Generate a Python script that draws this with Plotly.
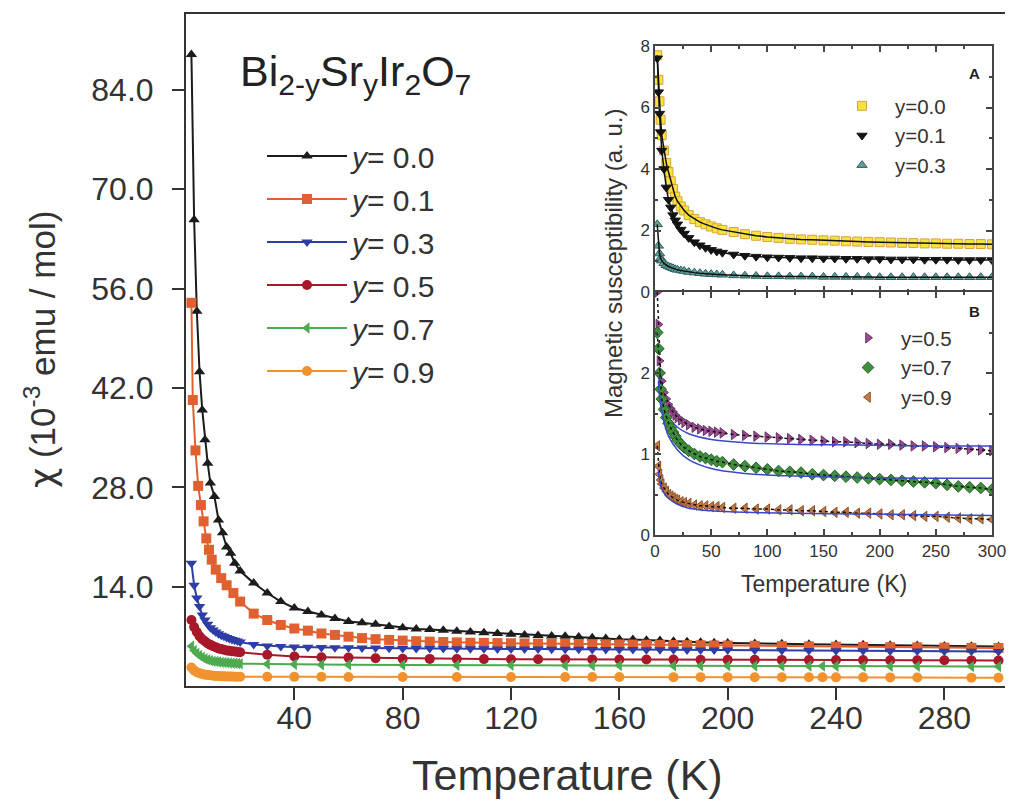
import plotly.graph_objects as go

# ---------------- main panel data (T in K, chi in 1e-3 emu/mol) ----------------
T_low_00 = [2, 3, 4, 5, 6, 7, 8, 9, 10.5, 12, 13.5, 15, 16.5, 18, 20]
chi_low_00 = [89.0, 65.7, 52.8, 44.3, 38.9, 34.7, 31.4, 28.6, 26.7, 23.4, 21.6, 19.6, 18.7, 17.3, 16.2]
T_low_01 = [2, 2.5, 3.5, 4.5, 5.5, 6.5, 7.5, 8.5, 9.5, 11, 13, 15, 17.5, 20]
chi_low_01 = [54.0, 40.3, 33.2, 28.2, 25.5, 23.2, 20.8, 19.2, 17.8, 16.4, 15.2, 14.2, 13.1, 11.9]
T_dense = [2, 3, 4, 5, 6, 7, 8, 9, 10, 11, 12, 13, 14, 15, 16, 17, 18, 19, 20]
chi_low_03 = [17.3, 14.2, 12.4, 11.2, 10.0, 9.3, 8.7, 8.2, 7.9, 7.6, 7.35, 7.15, 7.0, 6.85, 6.7, 6.55, 6.45, 6.35, 6.2]
chi_low_05 = [9.3, 8.3, 7.6, 7.0, 6.6, 6.3, 6.0, 5.8, 5.6, 5.45, 5.3, 5.2, 5.1, 5.0, 4.95, 4.9, 4.85, 4.8, 4.75]
chi_low_07 = [5.6, 5.0, 4.6, 4.3, 4.05, 3.85, 3.7, 3.6, 3.5, 3.45, 3.4, 3.35, 3.3, 3.28, 3.25, 3.22, 3.2, 3.18, 3.15]
chi_low_09 = [2.6, 2.2, 1.95, 1.8, 1.7, 1.6, 1.55, 1.5, 1.45, 1.42, 1.4, 1.38, 1.36, 1.35, 1.34, 1.33, 1.32, 1.31, 1.3]

T_high_5K = [25, 30, 35, 40, 45, 50, 55, 60, 65, 70, 75, 80, 85, 90, 95, 100, 105, 110, 115, 120,
             125, 130, 135, 140, 145, 150, 155, 160, 165, 170, 175, 180, 185, 190, 195, 200,
             210, 220, 230, 240, 250, 260, 270, 280, 290, 300]
chi_high_00 = [14.5, 13.1, 11.9, 11.0, 10.5, 10.0, 9.5, 9.1, 8.9, 8.7, 8.4, 8.2, 8.05, 7.95, 7.85, 7.7, 7.6, 7.5, 7.4, 7.3,
               7.2, 7.1, 7.05, 7.0, 6.9, 6.8, 6.7, 6.6, 6.55, 6.45, 6.4, 6.3, 6.25, 6.15, 6.1, 6.05,
               6.0, 5.95, 5.9, 5.85, 5.8, 5.75, 5.7, 5.65, 5.6, 5.55]
chi_high_01 = [10.2, 9.3, 8.6, 8.1, 7.8, 7.4, 7.2, 6.95, 6.75, 6.6, 6.5, 6.4, 6.32, 6.25, 6.2, 6.15, 6.1, 6.08, 6.05, 6.02,
               6.0, 5.98, 5.96, 5.94, 5.92, 5.9, 5.88, 5.86, 5.84, 5.82, 5.8, 5.78, 5.76, 5.74, 5.72, 5.7,
               5.66, 5.62, 5.58, 5.54, 5.5, 5.47, 5.44, 5.41, 5.38, 5.35]
chi_high_03 = [5.85, 5.65, 5.55, 5.5, 5.45, 5.42, 5.4, 5.38, 5.36, 5.34, 5.32, 5.3, 5.29, 5.28, 5.27, 5.26, 5.25, 5.24, 5.23, 5.22,
               5.21, 5.2, 5.19, 5.18, 5.17, 5.16, 5.15, 5.14, 5.13, 5.12, 5.11, 5.1, 5.09, 5.08, 5.07, 5.06,
               5.04, 5.02, 5.0, 4.98, 4.96, 4.94, 4.92, 4.9, 4.88, 4.86]
T_high_10K = [30, 40, 50, 60, 70, 80, 90, 100, 110, 120, 130, 140, 150, 160, 170, 180, 190, 200,
              210, 220, 230, 240, 250, 260, 270, 280, 290, 300]
chi_high_05 = [4.4, 4.15, 4.05, 4.0, 3.9, 3.85, 3.82, 3.8, 3.79, 3.78, 3.77, 3.76, 3.75, 3.74, 3.73, 3.72, 3.71, 3.7,
               3.69, 3.68, 3.67, 3.66, 3.65, 3.64, 3.63, 3.62, 3.61, 3.6]
T_high_sparse = [30, 40, 50, 60, 80, 100, 120, 140, 150, 160, 180, 190, 200, 210, 220, 230, 235, 240, 250, 260, 270, 290, 300]
chi_high_07 = [3.1, 3.05, 3.0, 3.0, 2.97, 2.94, 2.92, 2.9, 2.89, 2.88, 2.86, 2.85, 2.84, 2.83, 2.82, 2.81, 2.81, 2.8, 2.79,
               2.78, 2.77, 2.76, 2.75]
chi_high_09 = [1.3, 1.29, 1.29, 1.28, 1.28, 1.27, 1.27, 1.26, 1.26, 1.26, 1.25, 1.25, 1.25, 1.24, 1.24, 1.23, 1.23, 1.22,
               1.22, 1.21, 1.2, 1.18, 1.16]

main_names = ["<i>y</i>= 0.0", "<i>y</i>= 0.1", "<i>y</i>= 0.3", "<i>y</i>= 0.5", "<i>y</i>= 0.7", "<i>y</i>= 0.9"]
main_colors = ["#1c1c1c", "#e0612f", "#2e3ea6", "#a8182b", "#4daa50", "#f0922e"]
main_symbols = ["triangle-up", "square", "triangle-down", "circle", "triangle-left", "circle"]

main_T = [T_low_00 + T_high_5K, T_low_01 + T_high_5K, T_dense + T_high_5K,
          T_dense + T_high_10K, T_dense + T_high_sparse, T_dense + T_high_sparse]
main_chi = [chi_low_00 + chi_high_00, chi_low_01 + chi_high_01, chi_low_03 + chi_high_03,
            chi_low_05 + chi_high_05, chi_low_07 + chi_high_07, chi_low_09 + chi_high_09]

# ---------------- inset data (arbitrary units) ----------------
T_in = [2, 3, 4, 5, 6, 8, 10, 12, 14, 16, 18, 20, 23, 26, 30, 35, 40, 45, 50, 55, 60, 70, 80, 90, 100,
        110, 120, 130, 140, 150, 160, 170, 180, 190, 200, 210, 220, 230, 240, 250, 260, 270, 280, 290, 300]
m_00 = [7.7, 6.9, 6.2, 5.6, 5.1, 4.6, 4.2, 3.9, 3.6, 3.35, 3.1, 2.95, 2.78, 2.65, 2.5, 2.37, 2.27, 2.2, 2.13, 2.07,
        2.02, 1.95, 1.88, 1.83, 1.79, 1.76, 1.73, 1.71, 1.7, 1.68, 1.67, 1.65, 1.64, 1.63, 1.62, 1.61, 1.6, 1.59,
        1.58, 1.58, 1.57, 1.57, 1.56, 1.56, 1.55]
m_01 = [7.6, 6.5, 5.8, 5.2, 4.6, 4.0, 3.4, 3.0, 2.75, 2.5, 2.33, 2.2, 2.03, 1.9, 1.76, 1.62, 1.52, 1.44, 1.37, 1.32,
        1.28, 1.22, 1.18, 1.15, 1.13, 1.12, 1.11, 1.1, 1.1, 1.09, 1.09, 1.08, 1.08, 1.07, 1.07, 1.06, 1.06, 1.06,
        1.05, 1.05, 1.05, 1.04, 1.04, 1.04, 1.04]
m_03 = [2.2, 1.5, 1.25, 1.1, 1.02, 0.93, 0.87, 0.83, 0.8, 0.77, 0.74, 0.72, 0.7, 0.68, 0.65, 0.63, 0.61, 0.59, 0.58,
        0.57, 0.56, 0.54, 0.53, 0.52, 0.51, 0.51, 0.5, 0.5, 0.5, 0.49, 0.49, 0.49, 0.49, 0.49, 0.48, 0.48, 0.48,
        0.48, 0.48, 0.48, 0.48, 0.48, 0.48, 0.48, 0.48]
m_05 = [3.0, 2.6, 2.15, 2.0, 1.9, 1.76, 1.68, 1.61, 1.56, 1.52, 1.48, 1.45, 1.42, 1.39, 1.36, 1.33, 1.31, 1.29, 1.28,
        1.27, 1.26, 1.24, 1.23, 1.22, 1.21, 1.2, 1.19, 1.18, 1.17, 1.16, 1.15, 1.15, 1.14, 1.13, 1.12, 1.12, 1.11,
        1.1, 1.1, 1.09, 1.08, 1.07, 1.06, 1.05, 1.04]
m_07 = [2.5, 2.3, 2.0, 1.8, 1.68, 1.55, 1.45, 1.38, 1.32, 1.27, 1.22, 1.17, 1.12, 1.08, 1.04, 1.0, 0.97, 0.95, 0.93,
        0.91, 0.9, 0.87, 0.85, 0.83, 0.81, 0.79, 0.78, 0.77, 0.75, 0.74, 0.73, 0.72, 0.71, 0.7, 0.69, 0.68, 0.67,
        0.66, 0.65, 0.64, 0.62, 0.6, 0.59, 0.58, 0.56]
m_09 = [1.1, 0.85, 0.75, 0.68, 0.63, 0.58, 0.54, 0.5, 0.48, 0.46, 0.44, 0.43, 0.41, 0.4, 0.39, 0.37, 0.36, 0.36, 0.35,
        0.35, 0.34, 0.33, 0.33, 0.32, 0.32, 0.31, 0.31, 0.3, 0.3, 0.29, 0.28, 0.28, 0.27, 0.27, 0.26, 0.25, 0.25,
        0.24, 0.23, 0.23, 0.22, 0.21, 0.2, 0.2, 0.19]
T_fit = [3, 5, 8, 12, 20, 30, 50, 80, 120, 180, 240, 300]
fit_05 = [2.0, 1.75, 1.58, 1.45, 1.33, 1.25, 1.18, 1.14, 1.12, 1.11, 1.1, 1.1]
fit_07 = [1.9, 1.6, 1.4, 1.22, 1.05, 0.93, 0.82, 0.76, 0.73, 0.71, 0.7, 0.7]
fit_09 = [0.8, 0.62, 0.52, 0.45, 0.38, 0.33, 0.3, 0.28, 0.27, 0.26, 0.25, 0.24]

inset_names = ["y=0.0", "y=0.1", "y=0.3", "y=0.5", "y=0.7", "y=0.9"]
inset_fill = ["#f4e43c", "#151515", "#5f9e9a", "#9c4d92", "#3f8f3f", "#c47a42"]
inset_edge = ["#d9a040", "#151515", "#2f5f5c", "#6a2f66", "#255f25", "#8a5028"]
inset_symbols = ["square", "triangle-down", "triangle-up", "triangle-right", "diamond", "triangle-left"]
inset_vals = [m_00, m_01, m_03, m_05, m_07, m_09]
fits = [fit_05, fit_07, fit_09]

FONT = "Liberation Sans, Arial, sans-serif"
TXT = "#333333"

fig = go.Figure()

for i in range(6):
    fig.add_trace(go.Scatter(
        x=main_T[i], y=main_chi[i], mode="lines+markers", name=main_names[i],
        legendgroup="g%d" % i,
        line=dict(color=main_colors[i], width=2),
        marker=dict(symbol=main_symbols[i], size=10, color=main_colors[i],
                    line=dict(width=0)),
        xaxis="x", yaxis="y", legend="legend"))

# inset A
for i in range(3):
    fig.add_trace(go.Scatter(
        x=T_in, y=inset_vals[i], mode="markers", name=inset_names[i],
        marker=dict(symbol=inset_symbols[i], size=9, color=inset_fill[i],
                    line=dict(width=1, color=inset_edge[i])),
        xaxis="x2", yaxis="y2", legend="legend2"))
    fig.add_trace(go.Scatter(
        x=T_in, y=inset_vals[i], mode="lines", showlegend=False,
        line=dict(color="#111111", width=1.5), xaxis="x2", yaxis="y2"))

# inset B
for i in range(3, 6):
    fig.add_trace(go.Scatter(
        x=T_in, y=inset_vals[i], mode="markers", name=inset_names[i],
        marker=dict(symbol=inset_symbols[i], size=9, color=inset_fill[i],
                    line=dict(width=1, color=inset_edge[i])),
        xaxis="x3", yaxis="y3", legend="legend3"))
    fig.add_trace(go.Scatter(
        x=T_in, y=inset_vals[i], mode="lines", showlegend=False,
        line=dict(color="#111111", width=1.5, dash="dot"), xaxis="x3", yaxis="y3"))
    fig.add_trace(go.Scatter(
        x=T_fit, y=fits[i - 3], mode="lines", showlegend=False, line_shape="spline",
        line=dict(color="#3a48c8", width=1.5), xaxis="x3", yaxis="y3"))

L, R, T, B = 186, 4, 14, 122
W, H = 1009, 808
pw, ph = W - L - R, H - T - B


def px(x):
    return (x - L) / pw


def py(y):
    return (H - B - y) / ph


main_ax = dict(showline=True, linecolor="#333333", linewidth=2, ticks="outside", ticklen=12,
               tickwidth=2, tickcolor="#333333", showgrid=False, zeroline=False,
               tickfont=dict(family=FONT, size=32, color=TXT))

inset_common = dict(showline=True, linecolor="#444444", linewidth=1.5, mirror="ticks", ticks="inside",
                    ticklen=6, tickwidth=1.5, tickcolor="#444444", showgrid=False, zeroline=False,
                    tickfont=dict(family=FONT, size=17, color=TXT))

ix0, ix1 = px(655), px(992)
yA0, yA1 = py(292), py(46)
yB0, yB1 = py(535), py(292)

fig.update_layout(
    width=W, height=H, margin=dict(l=L, r=R, t=T, b=B, autoexpand=False),
    paper_bgcolor="white", plot_bgcolor="white",
    xaxis=dict(range=[0, 302.4], tickvals=[40, 80, 120, 160, 200, 240, 280], mirror=True,
               ticklabelstandoff=-9, **main_ax),
    yaxis=dict(range=[0, 94.7], tickvals=[14, 28, 42, 56, 70, 84], tickformat=".1f",
               ticklabelstandoff=12, **main_ax),
    xaxis2=dict(domain=[ix0, ix1], anchor="y2", range=[0, 300], dtick=50, showticklabels=False,
                minor=dict(dtick=25, ticklen=3, tickcolor="#444444", ticks="inside"), **inset_common),
    yaxis2=dict(domain=[yA0, yA1], anchor="x2", range=[0, 8], dtick=2,
                minor=dict(dtick=1, ticklen=3, tickcolor="#444444", ticks="inside"), **inset_common),
    xaxis3=dict(domain=[ix0, ix1], anchor="y3", range=[0, 300], dtick=50,
                minor=dict(dtick=25, ticklen=3, tickcolor="#444444", ticks="inside"), **inset_common),
    yaxis3=dict(domain=[yB0, yB1], anchor="x3", range=[0, 3], tickvals=[0, 1, 2],
                minor=dict(tickmode="linear", tick0=0, dtick=0.5, ticklen=3, tickcolor="#444444",
                           ticks="inside"), **inset_common),
    legend=dict(x=px(262), y=py(130), xanchor="left", yanchor="top", itemwidth=80,
                tracegroupgap=1, bgcolor="rgba(0,0,0,0)",
                font=dict(family=FONT, size=30, color=TXT)),
    legend2=dict(x=px(829), y=py(86), xanchor="left", yanchor="top", itemwidth=56,
                 bgcolor="rgba(0,0,0,0)", font=dict(family=FONT, size=20.5, color=TXT)),
    legend3=dict(x=px(835), y=py(318), xanchor="left", yanchor="top", itemwidth=56,
                 bgcolor="rgba(0,0,0,0)", font=dict(family=FONT, size=20.5, color=TXT)),
    showlegend=True,
)

ann = [
    dict(text="Bi<sub>2-y</sub>Sr<sub>y</sub>Ir<sub>2</sub>O<sub>7</sub>", x=px(238), y=py(74),
         xanchor="left", yanchor="middle", font=dict(family=FONT, size=43, color="#222222")),
    dict(text="Temperature (K)", x=px(567), y=py(775), xanchor="center", yanchor="middle",
         font=dict(family=FONT, size=43, color=TXT)),
    dict(text="<span style='font-family:DejaVu Sans'>χ</span> (10<sup>-3</sup> emu / mol)",
         x=px(40), y=py(350), xanchor="center", yanchor="middle",
         textangle=-90, font=dict(family=FONT, size=35, color=TXT)),
    dict(text="Magnetic susceptibility (a. u.)", x=px(613), y=py(264), xanchor="center", yanchor="middle",
         textangle=-90, font=dict(family=FONT, size=24, color=TXT)),
    dict(text="Temperature (K)", x=px(824), y=py(584), xanchor="center", yanchor="middle",
         font=dict(family=FONT, size=23, color=TXT)),
    dict(text="<b>A</b>", x=px(974), y=py(73), xanchor="center", yanchor="middle",
         font=dict(family=FONT, size=15, color="#222222")),
    dict(text="<b>B</b>", x=px(974), y=py(311), xanchor="center", yanchor="middle",
         font=dict(family=FONT, size=15, color="#222222")),
]
for a in ann:
    a.update(xref="paper", yref="paper", showarrow=False)
fig.update_layout(annotations=ann)

fig.write_html("out.html")
